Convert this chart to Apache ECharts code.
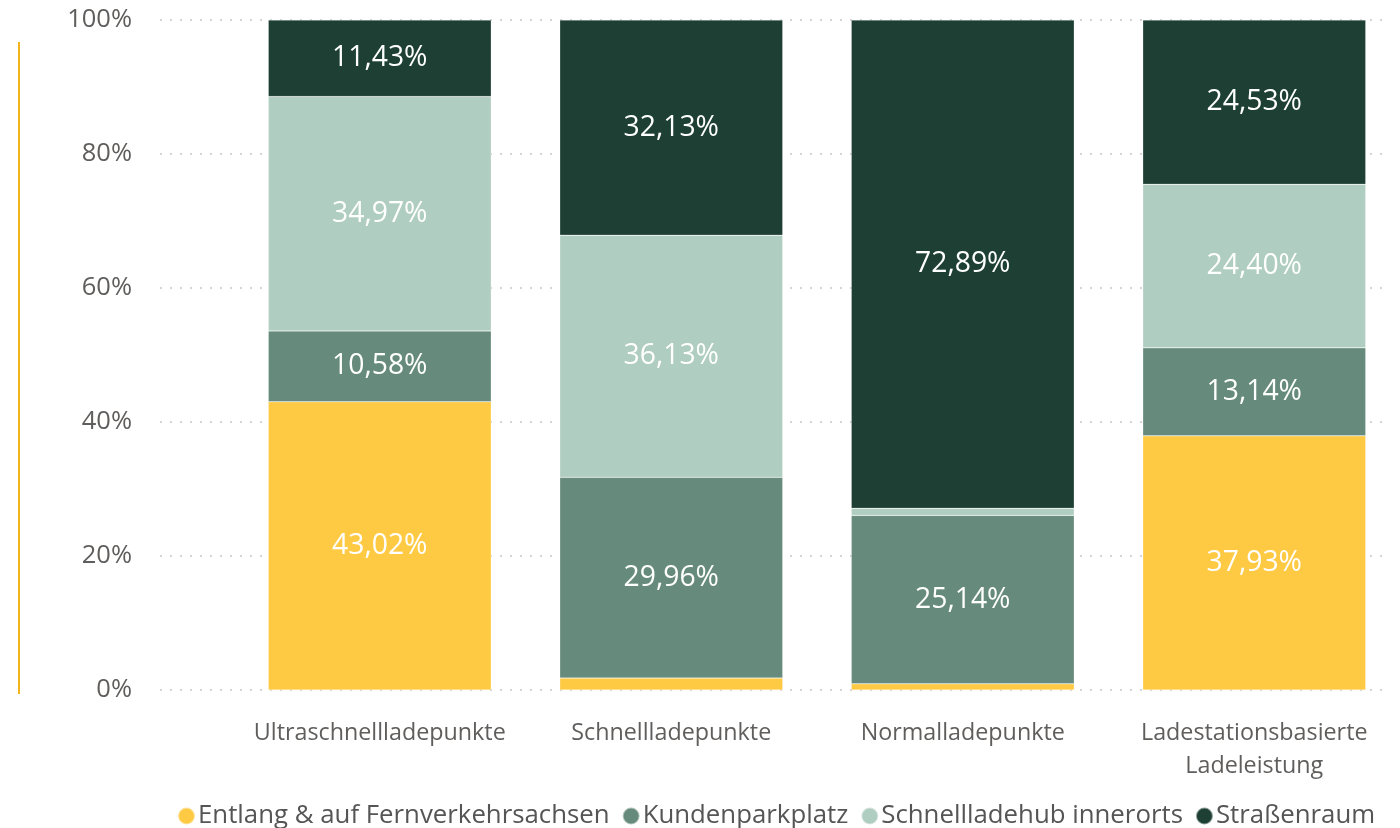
<!DOCTYPE html>
<html>
<head>
<meta charset="utf-8">
<script src="https://cdn.jsdelivr.net/npm/echarts@6/dist/echarts.min.js"></script>
<style>html,body{margin:0;padding:0;background:#fff}#c{width:1400px;height:828px}</style>
</head>
<body>
<div id="c"></div>
<script>
const categories = ['Ultraschnellladepunkte', 'Schnellladepunkte', 'Normalladepunkte', 'Ladestationsbasierte\nLadeleistung'];
const seriesNames = ['Entlang & auf Fernverkehrsachsen', 'Kundenparkplatz', 'Schnellladehub innerorts', 'Straßenraum'];
const fernverkehr = [43.02, 1.78, 0.92, 37.93];
const kundenparkplatz = [10.58, 29.96, 25.14, 13.14];
const schnellladehub = [34.97, 36.13, 1.05, 24.40];
const strassenraum = [11.43, 32.13, 72.89, 24.53];
const yTicks = [0, 20, 40, 60, 80, 100];
const colors = ['#FFCA43', '#668B7C', '#AFCDC0', '#1D3F34'];
const FONT = '"Open Sans", "Noto Sans", sans-serif';

const chart = echarts.init(document.getElementById('c'));
const dataSets = [fernverkehr, kundenparkplatz, schnellladehub, strassenraum];
const fmt = v => v.toFixed(2).replace('.', ',') + '%';

chart.setOption({
  animation: false,
  color: colors,
  grid: [
    {left: 160, right: 15, top: 20, bottom: 138},
    {left: 234, right: -2, top: 20, bottom: 138}
  ],
  legend: {
    top: 798, left: 172,
    icon: 'circle', itemWidth: 17, itemHeight: 17, itemGap: 12,
    textStyle: {fontFamily: FONT, fontSize: 25.8, color: '#555', padding: [0,0,0,-2]},
    data: seriesNames
  },
  xAxis: [
    {gridIndex: 0, type: 'category', data: categories, show: false},
    {gridIndex: 1, type: 'category', data: categories,
     axisLine: {show: false}, axisTick: {show: false},
     axisLabel: {fontFamily: FONT, fontSize: 23.3, color: '#605E5C', margin: 27, lineHeight: 33,
       interval: 0, hideOverlap: false}}
  ],
  yAxis: [
    {gridIndex: 0, type: 'value', min: 0, max: 100, interval: 20,
     axisLine: {show: false}, axisTick: {show: false},
     axisLabel: {fontFamily: FONT, fontSize: 25.5, color: '#605E5C', margin: 28,
       formatter: v => yTicks.includes(v) ? v + '%' : ''},
     splitLine: {lineStyle: {color: '#C8C8C8', type: [2, 8], width: 1.5}}},
    {gridIndex: 1, type: 'value', min: 0, max: 100, show: false}
  ],
  series: seriesNames.map((n, i) => ({
    name: n, type: 'bar', stack: 'total', xAxisIndex: 1, yAxisIndex: 1,
    barWidth: 223,
    data: dataSets[i],
    itemStyle: {color: colors[i], borderColor: 'rgba(255,255,255,0.5)', borderWidth: 0.5},
    label: {
      show: true, position: 'inside', fontFamily: FONT, fontSize: 28.3, color: '#fff',
      formatter: p => p.value >= 5 ? fmt(p.value) : ''
    }
  })),
  graphic: [{
    type: 'line', shape: {x1: 19, y1: 42, x2: 19, y2: 694},
    style: {stroke: '#F2B51C', lineWidth: 2}
  }]
});
</script>
</body>
</html>
